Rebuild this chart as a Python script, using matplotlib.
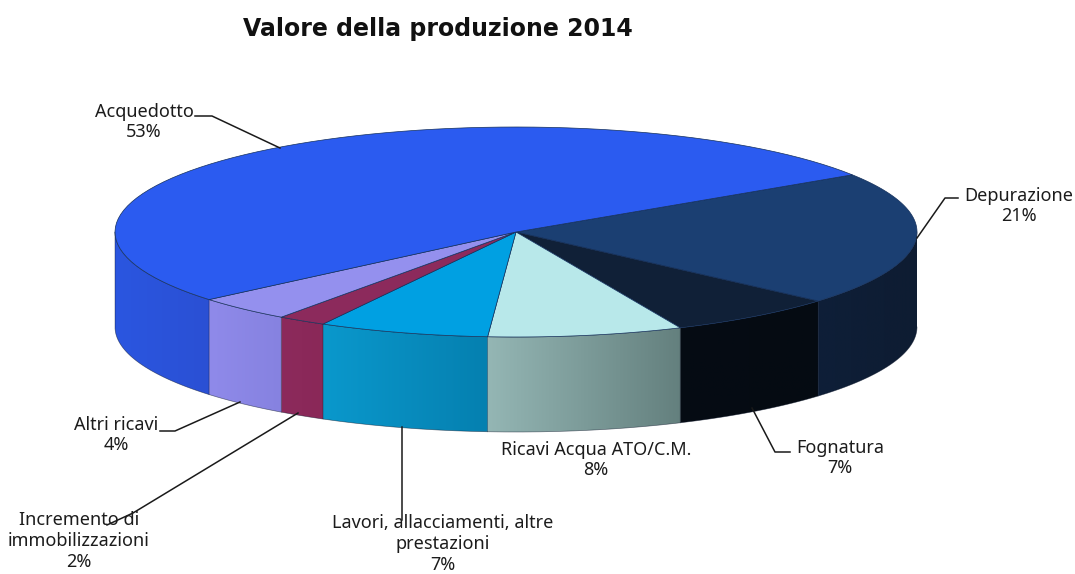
#!/usr/bin/env python3
"""Valore della produzione 2014: pseudo-3D pie drawn on a pixel-sized axes."""
import matplotlib
matplotlib.use("Agg")
import matplotlib.pyplot as plt
import numpy as np
from matplotlib.colors import LinearSegmentedColormap
from matplotlib.patches import Polygon

# clockwise from the back right of the pie
CATEGORIES = ["Depurazione", "Fognatura", "Ricavi Acqua ATO/C.M.",
              "Lavori, allacciamenti, altre\nprestazioni", "Incremento di\nimmobilizzazioni",
              "Altri ricavi", "Acquedotto"]
VALUES = [21, 7, 8, 7, 2, 4, 53]
TOP_COLORS = ["#1b3f72", "#102037", "#b8e8ea", "#00a0e2", "#8c2a5c", "#9490ee", "#2b5bf0"]
SIDE_LEFT = ["#0e1f38", "#050c14", "#94b6b4", "#0a98cc", "#8c2a5c", "#8f8aea", "#2b56e0"]
SIDE_RIGHT = ["#0e1c32", "#050b12", "#64807e", "#0580b0", "#8a2858", "#8682e0", "#2a50d4"]

LABEL_POS = [(1019, 206), (840, 458), (596, 460), (443, 544), (79, 541), (116, 435), (144, 122)]
LEADERS = [[(958, 198), (945, 198), (917, 238)],
           [(790, 452), (775, 452), (752, 408)],
           None,
           [(402, 427), (402, 520)],
           [(298, 413), (133, 513), (107, 525)],
           [(160, 431), (175, 431), (240, 402)],
           [(195, 116), (212, 116), (280, 148)]]

CX, CY, RX, RY, DEPTH = 516, 232, 401, 105, 95
START = 33.0


def rim(t0, t1, n=80):
    t = np.radians(np.linspace(t0, t1, n))
    return CX + RX * np.cos(t), CY - RY * np.sin(t)


def draw_side(ax, t0, t1, left, right):
    # t0 > t1 on the clockwise walk; only the front half of the wall shows
    t0, t1 = min(t0, 0.0), max(t1, -180.0)
    if t0 <= t1:
        return
    x, y = rim(t0, t1)
    pts = np.r_[np.c_[x, y], np.c_[x[::-1], y[::-1] + DEPTH]]
    poly = Polygon(pts, closed=True, fc="none", ec="none", transform=ax.transData)
    ax.add_patch(poly)
    cmap = LinearSegmentedColormap.from_list("side", [left, right])
    img = ax.imshow(np.linspace(0, 1, 128).reshape(1, -1), cmap=cmap, aspect="auto",
                    extent=(x.min(), x.max(), y.max() + DEPTH, y.min()), zorder=2)
    img.set_clip_path(poly)
    ax.plot(pts[:, 0], pts[:, 1], color="#0a1428", lw=0.5, alpha=0.55, zorder=2.1)


def main():
    fig = plt.figure(figsize=(10.75, 5.74), dpi=100)
    ax = fig.add_axes([0, 0, 1, 1])

    span = 360.0 * np.array(VALUES) / sum(VALUES)
    t = START
    for i, s in enumerate(span):
        draw_side(ax, t, t - s, SIDE_LEFT[i], SIDE_RIGHT[i])
        x, y = rim(t, t - s)
        ax.add_patch(Polygon(np.r_[[(CX, CY)], np.c_[x, y]], closed=True, fc=TOP_COLORS[i],
                             ec="#14305c", lw=0.5, zorder=3))
        t -= s

    for path in LEADERS:
        if path:
            xs, ys = zip(*path)
            ax.plot(xs, ys, color="#1a1a1a", lw=1.1, zorder=4)

    for name, val, (x, y) in zip(CATEGORIES, VALUES, LABEL_POS):
        ax.text(x, y, f"{name}\n{val}%", ha="center", va="center", fontsize=13,
                family="Noto Sans", linespacing=1.2, color="#1c1c1c", zorder=5)
    ax.text(438, 29, "Valore della produzione 2014", ha="center", va="center",
            fontsize=17, fontweight="bold", color="#111111")

    ax.set_xlim(0, 1075)
    ax.set_ylim(574, 0)
    ax.axis("off")
    fig.savefig("out.png", dpi=100)
    plt.close(fig)


if __name__ == "__main__":
    main()
